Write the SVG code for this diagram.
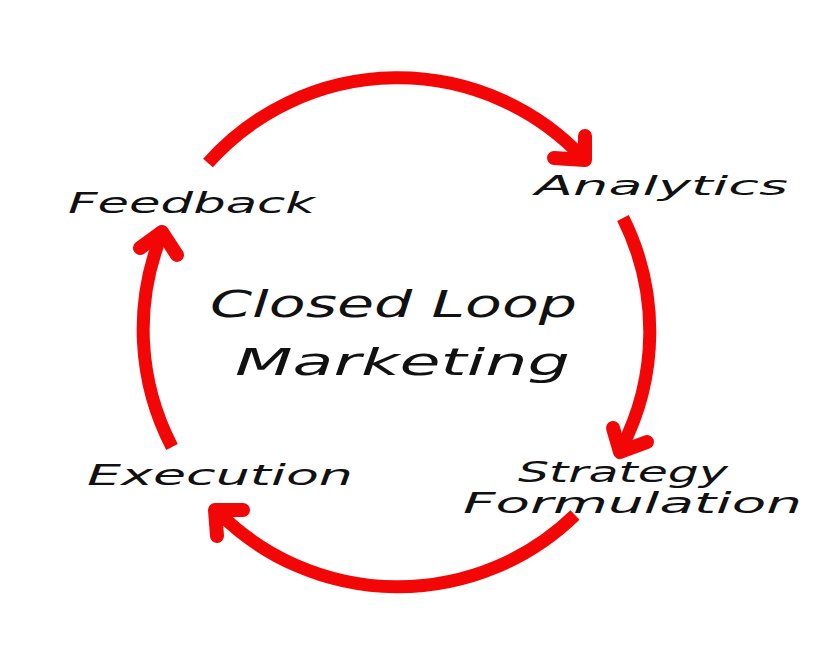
<svg xmlns="http://www.w3.org/2000/svg" width="836" height="660" viewBox="0 0 836 660">
<style>
.arc{fill:none;stroke:#f20606;stroke-width:13;stroke-linecap:butt}
.head{fill:none;stroke:#f20606;stroke-width:14;stroke-linecap:round;stroke-linejoin:round}
.lbl{font-family:"DejaVu Sans","Liberation Sans",sans-serif;font-style:italic;fill:#111}
</style>
<rect width="836" height="660" fill="#fff"/>
<g id="connectors">
<path class="arc" d="M208,163 A254,254 0 0 1 583,158"/>
<path class="head" d="M585,136 L585,160 L554,158"/>
<path class="arc" d="M623,218 A254,254 0 0 1 621,449"/>
<path class="head" d="M613,428 L620,452 L647,442"/>
<path class="arc" d="M575,515 A254,254 0 0 1 218,512"/>
<path class="head" d="M243,510 L215,510 L217,536"/>
<path class="arc" d="M172,447 A254,254 0 0 1 161,236"/>
<path class="head" d="M140,248 L162,232 L177,255"/>
</g>
<g id="center">
<text class="lbl" x="210" y="317" font-size="38" textLength="367" lengthAdjust="spacingAndGlyphs">Closed Loop</text>
<text class="lbl" x="235" y="375" font-size="38" textLength="335" lengthAdjust="spacingAndGlyphs">Marketing</text>
</g>
<g id="feedback">
<text class="lbl" x="68" y="213" font-size="29" textLength="247" lengthAdjust="spacingAndGlyphs">Feedback</text>
</g>
<g id="analytics">
<text class="lbl" x="535" y="195" font-size="27" textLength="253" lengthAdjust="spacingAndGlyphs">Analytics</text>
</g>
<g id="strategy">
<text class="lbl" x="518" y="482" font-size="29" textLength="210" lengthAdjust="spacingAndGlyphs">Strategy</text>
<text class="lbl" x="463" y="513" font-size="29" textLength="339" lengthAdjust="spacingAndGlyphs">Formulation</text>
</g>
<g id="execution">
<text class="lbl" x="87" y="485" font-size="29" textLength="266" lengthAdjust="spacingAndGlyphs">Execution</text>
</g>
</svg>
